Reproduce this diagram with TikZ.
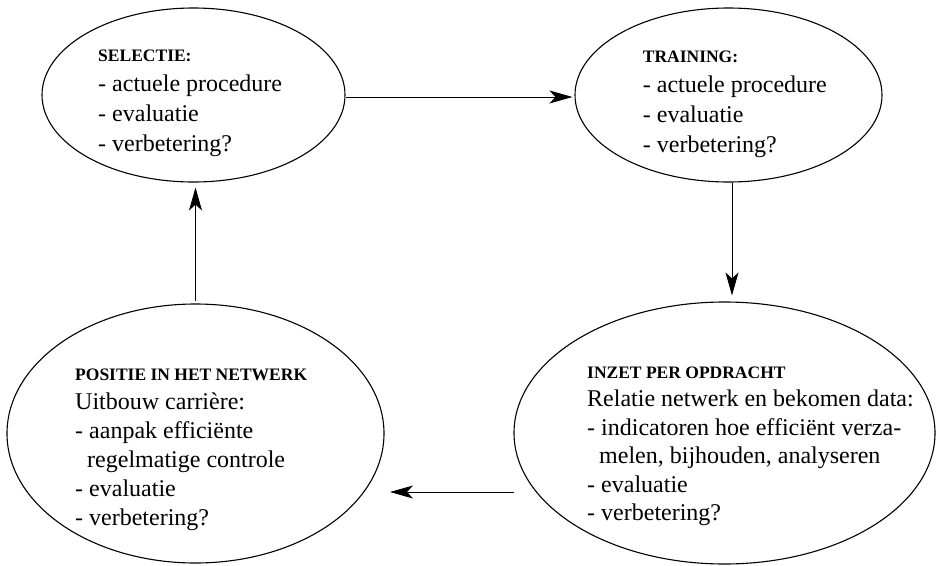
\documentclass[tikz,border=0pt]{standalone}
\usepackage{fontspec}
\setmainfont{Liberation Serif}
\usetikzlibrary{shapes.geometric,arrows.meta}

% a stack of text lines whose first baseline is the node's base
\newcommand\ovallines[2]{\vtop{\baselineskip=#1pt\lineskiplimit=-20pt\lineskip=0pt #2}}
\newcommand\heading[1]{\hbox{\fontsize{17.5}{20}\selectfont\bfseries #1}}
\newcommand\textline[1]{\hbox{#1}}

\begin{document}
\begin{tikzpicture}[x=1pt,y=-1pt,
  oval/.style={draw, ellipse, line width=1.1pt, inner sep=0pt},
  ovaltext/.style={anchor=base west, inner sep=0pt, font=\fontsize{24}{30}\selectfont},
  flow/.style={draw, line width=0.8pt, -{Stealth[length=23pt,width=13pt,inset=6pt]}}]
\useasboundingbox (0,0) rectangle (945,565);

% the four stages
\node[oval, minimum width=303pt, minimum height=174pt] (sel) at (193.5,95) {};
\node[oval, minimum width=307pt, minimum height=174pt] (trn) at (728.5,95) {};
\node[oval, minimum width=377pt, minimum height=259pt] (pos) at (195.5,433.5) {};
\node[oval, minimum width=421pt, minimum height=262pt] (inz) at (724.5,433) {};

% their texts
\node[ovaltext] (seltxt) at (98,61.7) {\ovallines{30}{%
  \heading{SELECTIE:}
  \textline{- actuele procedure}
  \textline{- evaluatie}
  \textline{- verbetering?}}};
\node[ovaltext] (trntxt) at (642.7,62.7) {\ovallines{30}{%
  \heading{TRAINING:}
  \textline{- actuele procedure}
  \textline{- evaluatie}
  \textline{- verbetering?}}};
\node[ovaltext] (postxt) at (75,380) {\ovallines{29}{%
  \heading{POSITIE IN HET NETWERK}
  \textline{Uitbouw carrière:}
  \textline{- aanpak efficiënte}
  \textline{\hspace{12pt}regelmatige controle}
  \textline{- evaluatie}
  \textline{- verbetering?}}};
\node[ovaltext] (inztxt) at (587,378.3) {\ovallines{28.5}{%
  \heading{INZET PER OPDRACHT}
  \textline{Relatie netwerk en bekomen data:}
  \textline{- indicatoren hoe efficiënt verza-}
  \textline{\hspace{12pt}melen, bijhouden, analyseren}
  \textline{- evaluatie}
  \textline{- verbetering?}}};

% the cycle
\coordinate (backstart) at (514,492);
\coordinate (backend) at (390,492);
\draw[flow, shorten >=2pt] ([yshift=-2pt]sel.east) -- ([yshift=-2pt]trn.west);
\draw[flow, shorten >=6pt] ([xshift=3.5pt]trn.south) -- ([xshift=3.5pt]trn.south |- inz.north);
\draw[flow] (backstart) -- (backend);
\draw[flow, shorten >=5pt, shorten <=2pt] (pos.north) -- (pos.north |- sel.south);
\end{tikzpicture}
\end{document}
